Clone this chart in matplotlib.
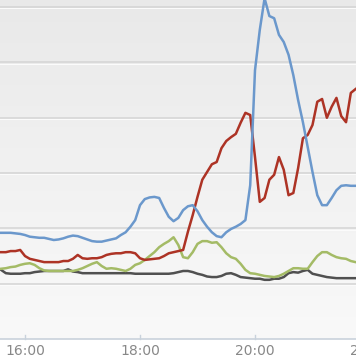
import numpy as np
import pandas as pd
import matplotlib
matplotlib.use('Agg')
import matplotlib.pyplot as plt
import matplotlib.dates as mdates

# 5 minute samples, 15:35 - 21:45
times = pd.date_range('2012-01-01 15:35', periods=75, freq='5min')

blue = [192, 192, 192, 191, 190, 188, 185, 184, 183, 183, 181, 179, 180, 182, 185,
        187, 186, 183, 180, 177, 176, 176, 178, 180, 182, 188, 193, 203, 215, 242,
        253, 256, 257, 255, 237, 221, 213, 219, 233, 240, 242, 231, 215, 203, 193,
        186, 184, 193, 199, 203, 208, 215, 278, 486, 559, 616, 584, 580, 550, 537,
        514, 477, 432, 392, 347, 302, 260, 242, 242, 255, 269, 277, 278, 277, 277]

red = [157, 157, 159, 159, 161, 150, 145, 143, 141, 139, 139, 139, 139, 141, 141,
       145, 152, 146, 145, 146, 146, 148, 152, 154, 155, 155, 157, 157, 155, 146,
       143, 144, 145, 146, 150, 155, 157, 159, 161, 194, 224, 257, 288, 302, 316,
       320, 345, 358, 365, 371, 391, 409, 405, 329, 248, 255, 288, 297, 329, 306,
       260, 264, 309, 363, 369, 387, 429, 434, 400, 420, 436, 403, 392, 445, 452]

green = [127, 128, 130, 131, 134, 136, 137, 134, 128, 124, 123, 123, 123, 123, 123,
         123, 125, 128, 132, 136, 139, 132, 127, 128, 127, 125, 123, 127, 134, 137,
         143, 150, 157, 166, 172, 177, 184, 170, 148, 146, 157, 172, 177, 177, 174,
         175, 166, 155, 148, 145, 136, 125, 119, 118, 116, 114, 113, 112, 114, 118,
         123, 128, 128, 127, 127, 139, 150, 157, 157, 152, 148, 146, 145, 141, 139]

black = [125, 119, 118, 118, 118, 119, 119, 121, 122, 123, 123, 123, 123, 123, 126,
         122, 121, 119, 119, 119, 119, 119, 119, 119, 119, 119, 119, 119, 118, 118,
         118, 118, 118, 118, 118, 118, 119, 121, 123, 123, 121, 118, 116, 113, 112,
         112, 114, 118, 119, 116, 112, 111, 110, 109, 109, 107, 107, 109, 109, 112,
         119, 121, 120, 123, 125, 118, 116, 114, 112, 111, 110, 110, 110, 110, 110]

tick_labels = ['16:00', '18:00', '20:00', '22:00']

fig = plt.figure(figsize=(3.56, 3.64), dpi=100)
fig.patch.set_facecolor('white')
ax = fig.add_axes([0, 25 / 364, 1, 339 / 364])

x0 = pd.Timestamp('2012-01-01 15:33:54')
x1 = pd.Timestamp('2012-01-01 21:45:24')
ax.set_xlim(x0, x1)
ax.set_ylim(0, 613)

# soft grey gradient behind the plot (lighter at the bottom)
grad = np.linspace(0, 1, 256).reshape(-1, 1)
ax.imshow(grad, extent=[0, 1, 0, 1], transform=ax.transAxes, aspect='auto',
          cmap=matplotlib.colors.LinearSegmentedColormap.from_list('bg', ['#f9f9f9', '#e9e9e9']),
          origin='lower', zorder=0)

for v in range(100, 700, 100):
    ax.axhline(v, color='#d4d4d4', lw=1.1, zorder=1)
    ax.axhline(v - 2, color='#fbfbfb', lw=0.8, zorder=1)

ax.plot(times, black, color='#505050', lw=1.8, zorder=3)
ax.plot(times, green, color='#a4bb66', lw=1.8, zorder=3)
ax.plot(times, red, color='#ad3325', lw=1.8, zorder=4)
ax.plot(times, blue, color='#6b98cc', lw=1.8, zorder=5)

for s in ['top', 'left', 'right']:
    ax.spines[s].set_visible(False)
ax.spines['bottom'].set_color('#c9d2dc')
ax.spines['bottom'].set_linewidth(1.2)
ax.set_yticks([])
ax.set_xticks([])

for lab in tick_labels:
    t = pd.Timestamp('2012-01-01 ' + lab)
    xd = mdates.date2num(t)
    ax.plot([xd, xd], [0, 0.012], transform=ax.get_xaxis_transform(),
            color='#c9d2dc', lw=1, clip_on=False)
    ax.text(xd, -0.034, lab, transform=ax.get_xaxis_transform(), ha='center', va='center',
            fontsize=10, color='#888888', fontfamily='DejaVu Sans', clip_on=False)

fig.savefig('out.png', dpi=100, facecolor='white')
